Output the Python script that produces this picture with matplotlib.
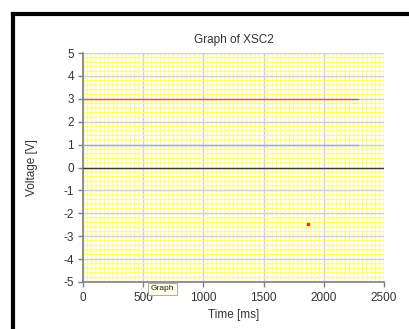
import matplotlib
matplotlib.use("Agg")
import matplotlib.pyplot as plt
from matplotlib.lines import Line2D
from matplotlib.ticker import MultipleLocator

plt.rcParams['font.family'] = ['Liberation Sans', 'DejaVu Sans']
plt.rcParams['axes.unicode_minus'] = False

# traces
ch_a_time = [0, 2280]
ch_a_volt = [3, 3]
ch_b_time = [0, 2280]
ch_b_volt = [1, 1]
cursor_time = [1866]
cursor_volt = [-2.47]

x_ticks = [0, 500, 1000, 1500, 2000, 2500]
y_ticks = [5, 4, 3, 2, 1, 0, -1, -2, -3, -4, -5]

fig = plt.figure(figsize=(4.10, 3.29), dpi=100)
ax = fig.add_axes([83 / 410, 1 - 282 / 329, 301 / 410, 229 / 329])

ax.set_xlim(0, 2500)
ax.set_ylim(-5, 5)

# yellow minor grid, grey major grid
ax.xaxis.set_minor_locator(MultipleLocator(500 / 14))
ax.yaxis.set_minor_locator(MultipleLocator(0.2))
ax.grid(which='minor', color='#ffff66', linewidth=0.75, snap=False)
ax.grid(which='major', color='#d0d0d0', linewidth=1.0)
ax.set_axisbelow(True)
ax.tick_params(which='minor', length=0)

ax.axhline(0, color='#3a3a3a', linewidth=1.0, zorder=3)
ax.plot(ch_a_time, ch_a_volt, color='#ff4848', linewidth=1.0, zorder=3)
ax.plot(ch_b_time, ch_b_volt, color='#a0a0ff', linewidth=1.0, zorder=3)
ax.plot(cursor_time, cursor_volt, 's', color='#ff2020', markersize=1.8, zorder=4)

ax.set_xticks(x_ticks)
ax.set_yticks(y_ticks)
ax.tick_params(which='major', length=3.5, width=1.0, color='#808080',
               labelsize=8.5, pad=3, labelcolor='#333333')
ax.tick_params(axis='x', pad=4)

for side in ['top', 'right']:
    ax.spines[side].set_visible(False)
for side in ['left', 'bottom']:
    ax.spines[side].set_color('#808080')
    ax.spines[side].set_linewidth(1.2)

ax.set_title('Graph of XSC2', fontsize=8.5, color='#333333', pad=7)
ax.set_xlabel('Time [ms]', fontsize=8.5, color='#333333', labelpad=3)
ax.set_ylabel('Voltage [V]', fontsize=8.5, color='#333333', labelpad=18)

# window frame
fig.add_artist(Line2D([13.5 / 410, 1], [1 - 13.5 / 329, 1 - 13.5 / 329],
                      transform=fig.transFigure, color='black', linewidth=3.0,
                      solid_capstyle='projecting'))
fig.add_artist(Line2D([13.5 / 410, 13.5 / 410], [0, 1 - 13.5 / 329],
                      transform=fig.transFigure, color='black', linewidth=3.0,
                      solid_capstyle='projecting'))

# tooltip
fig.text(151 / 410, 1 - 289 / 329, 'Graph', fontsize=6, color='#222222',
         va='center', ha='left',
         bbox=dict(boxstyle='square,pad=0.35', facecolor='#ffffe6',
                   edgecolor='#a0a0a0', linewidth=0.6))

fig.savefig('out.png', dpi=100)
